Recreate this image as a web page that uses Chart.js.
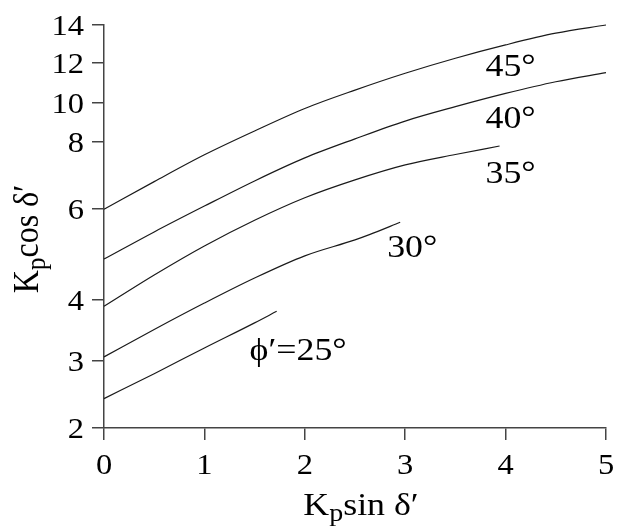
<!DOCTYPE html>
<html>
<head>
<meta charset="utf-8">
<script src="https://cdn.jsdelivr.net/npm/chart.js@4"></script>
<style>
  body { margin: 0; background: #fff; }
  #wrap { width: 617px; height: 528px; }
</style>
</head>
<body>
<div id="wrap"><canvas id="chart" width="617" height="528"></canvas></div>
<script>
// values (Kp sin d' , Kp cos d')
const sin25 = [0, 0.5, 1, 1.5, 1.72];
const cos25 = [2.39, 2.78, 3.19, 3.59, 3.79];
const sin30 = [0, 0.5, 1, 1.5, 2, 2.5, 2.65, 2.95];
const cos30 = [3.06, 3.48, 3.94, 4.41, 4.87, 5.23, 5.36, 5.66];
const sin35 = [0, 0.5, 1, 1.5, 2, 2.5, 3, 3.5, 3.94];
const cos35 = [3.88, 4.47, 5.09, 5.71, 6.30, 6.80, 7.25, 7.58, 7.86];
const sin40 = [0, 0.5, 1, 1.5, 2, 2.5, 3, 3.5, 4, 4.5, 5];
const cos40 = [4.80, 5.42, 6.08, 6.77, 7.47, 8.14, 9.02, 9.80, 10.45, 11.02, 11.48];
const sin45 = [0, 0.5, 1, 1.5, 2, 2.5, 3, 3.5, 4, 4.5, 5];
const cos45 = [6.0, 6.75, 7.57, 8.52, 9.70, 10.61, 11.45, 12.23, 12.91, 13.54, 14.0];

const phiNames = ["ϕ′=25°", "30°", "35°", "40°", "45°"];
const labelX = [1.45, 2.82, 3.80, 3.80, 3.80];
const labelY = [3.01, 4.84, 6.72, 8.67, 11.31];

const xTicks = [0, 1, 2, 3, 4, 5];
const yTicks = [2, 3, 4, 6, 8, 10, 12, 14];
// the printed axis is not a clean log scale, so tick spacing is taken from the figure
const yTickDecimals = [0, 0.166, 0.318, 0.543, 0.710, 0.806, 0.906, 1];

const SERIF = "'Liberation Serif', 'Times New Roman', serif";
const STRETCH = 1.12; // the scanned figure is a bit wider than tall

function toDecimal(v) {
  if (v <= yTicks[0]) return 0;
  for (let i = 1; i < yTicks.length; i++) {
    if (v <= yTicks[i]) {
      const f = Math.log(v / yTicks[i - 1]) / Math.log(yTicks[i] / yTicks[i - 1]);
      return yTickDecimals[i - 1] + f * (yTickDecimals[i] - yTickDecimals[i - 1]);
    }
  }
  return 1;
}
function fromDecimal(d) {
  for (let i = 1; i < yTicks.length; i++) {
    if (d <= yTickDecimals[i]) {
      const f = (d - yTickDecimals[i - 1]) / (yTickDecimals[i] - yTickDecimals[i - 1]);
      return yTicks[i - 1] * Math.pow(yTicks[i] / yTicks[i - 1], f);
    }
  }
  return yTicks[yTicks.length - 1];
}

class FigureScale extends Chart.LinearScale {
  static id = 'figure';
  getPixelForValue(value) {
    return this.getPixelForDecimal(toDecimal(value));
  }
  getValueForPixel(pixel) {
    return fromDecimal(this.getDecimalForPixel(pixel));
  }
}
Chart.register(FigureScale);

function pts(xs, ys) {
  return xs.map((x, i) => ({ x: x, y: ys[i] }));
}

function text(ctx, t, x, y, align, size) {
  ctx.save();
  ctx.translate(x, y);
  ctx.scale(STRETCH, 1);
  ctx.font = size + 'px ' + SERIF;
  ctx.textAlign = align;
  ctx.fillText(t, 0, 0);
  ctx.restore();
}

function drawPieces(ctx, pieces, x, y) {
  let cx = x;
  pieces.forEach(p => {
    ctx.font = p.size + 'px ' + SERIF;
    ctx.fillText(p.t, cx, y + (p.dy || 0));
    cx += ctx.measureText(p.t).width;
  });
}
function piecesWidth(ctx, pieces) {
  let w = 0;
  pieces.forEach(p => {
    ctx.font = p.size + 'px ' + SERIF;
    w += ctx.measureText(p.t).width;
  });
  return w;
}

const textPlugin = {
  id: 'figureText',
  afterDraw(chart) {
    const ctx = chart.ctx;
    const xs = chart.scales.x, ys = chart.scales.y;
    ctx.save();
    ctx.fillStyle = '#000';
    ctx.textBaseline = 'alphabetic';

    // tick labels
    xTicks.forEach(v => text(ctx, String(v), xs.getPixelForValue(v), 474, 'center', 29));
    yTicks.forEach(v => text(ctx, String(v), 84, ys.getPixelForValue(v) + 10, 'right', 29));

    // curve labels
    phiNames.forEach((t, i) => {
      text(ctx, t, xs.getPixelForValue(labelX[i]), ys.getPixelForValue(labelY[i]), 'left', 32);
    });

    ctx.textAlign = 'left';
    // x title
    const xt = [{ t: 'K', size: 32 }, { t: 'p', size: 25, dy: 6 }, { t: 'sin δ′', size: 32 }];
    const xw = piecesWidth(ctx, xt);
    ctx.save();
    ctx.translate((chart.chartArea.left + chart.chartArea.right) / 2 + 6, 515);
    ctx.scale(STRETCH, 1);
    drawPieces(ctx, xt, -xw / 2, 0);
    ctx.restore();

    // y title
    const yt = [{ t: 'K', size: 32 }, { t: 'p', size: 25, dy: 6 }, { t: 'cos δ′', size: 32 }];
    const yw = piecesWidth(ctx, yt);
    ctx.save();
    ctx.translate(38, 239);
    ctx.scale(STRETCH, 1);
    ctx.rotate(-Math.PI / 2);
    drawPieces(ctx, yt, -yw / 2, 0);
    ctx.restore();
    ctx.restore();
  }
};

const lineStyle = {
  borderColor: '#1a1a1a',
  borderWidth: 1.2,
  pointRadius: 0,
  fill: false,
  cubicInterpolationMode: 'monotone',
  clip: false
};

new Chart(document.getElementById('chart'), {
  type: 'line',
  data: {
    datasets: [
      Object.assign({ label: '25', data: pts(sin25, cos25) }, lineStyle),
      Object.assign({ label: '30', data: pts(sin30, cos30) }, lineStyle),
      Object.assign({ label: '35', data: pts(sin35, cos35) }, lineStyle),
      Object.assign({ label: '40', data: pts(sin40, cos40) }, lineStyle),
      Object.assign({ label: '45', data: pts(sin45, cos45) }, lineStyle)
    ]
  },
  options: {
    responsive: false,
    animation: false,
    layout: { padding: { top: 25, right: 11, left: 0, bottom: 0 } },
    plugins: { legend: { display: false }, tooltip: { enabled: false } },
    scales: {
      x: {
        type: 'linear',
        min: 0,
        max: 5,
        afterFit: s => { s.height = 100; },
        afterBuildTicks: s => { s.ticks = xTicks.map(v => ({ value: v })); },
        grid: { drawOnChartArea: false, drawTicks: true, tickLength: 12, color: '#444', lineWidth: 1.5 },
        border: { display: true, color: '#444', width: 1.5 },
        ticks: { display: false }
      },
      y: {
        type: 'figure',
        min: 2,
        max: 14,
        afterFit: s => { s.width = 104; },
        afterBuildTicks: s => { s.ticks = yTicks.map(v => ({ value: v })); },
        grid: { drawOnChartArea: false, drawTicks: true, tickLength: 12, color: '#444', lineWidth: 1.5 },
        border: { display: true, color: '#444', width: 1.5 },
        ticks: { display: false }
      }
    }
  },
  plugins: [textPlugin]
});
</script>
</body>
</html>
